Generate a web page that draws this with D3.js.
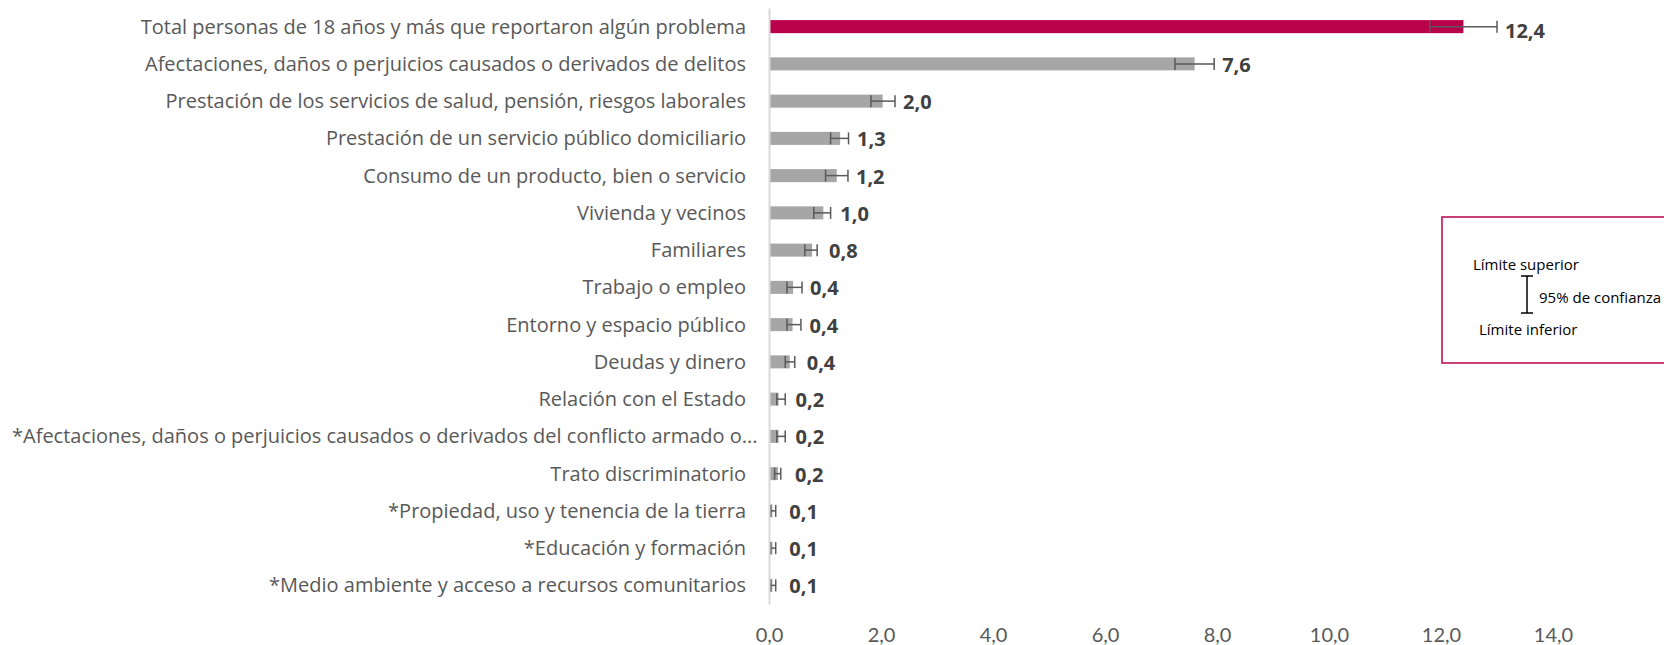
<!DOCTYPE html>
<html>
<head>
<meta charset="utf-8">
<script src="https://cdn.jsdelivr.net/npm/d3@7"></script>
<style>
  html, body { margin: 0; padding: 0; background: #fff; }
  svg { display: block; }
</style>
</head>
<body>
<svg id="chart" width="1664" height="645"></svg>
<script>
const categories = [
  "Total personas de 18 años y más que reportaron algún problema",
  "Afectaciones, daños o perjuicios causados o derivados de delitos",
  "Prestación de los servicios de salud, pensión, riesgos laborales",
  "Prestación de un servicio público domiciliario",
  "Consumo de un producto, bien o servicio",
  "Vivienda y vecinos",
  "Familiares",
  "Trabajo o empleo",
  "Entorno y espacio público",
  "Deudas y dinero",
  "Relación con el Estado",
  "*Afectaciones, daños o perjuicios causados o derivados del conflicto armado o...",
  "Trato discriminatorio",
  "*Propiedad, uso y tenencia de la tierra",
  "*Educación y formación",
  "*Medio ambiente y acceso a recursos comunitarios"
];
const values = [12.4, 7.6, 2.03, 1.27, 1.21, 0.97, 0.77, 0.43, 0.42, 0.37, 0.17, 0.17, 0.16, 0.06, 0.06, 0.06];
const lower  = [11.8, 7.25, 1.82, 1.10, 1.01, 0.80, 0.64, 0.32, 0.32, 0.29, 0.14, 0.14, 0.10, 0.03, 0.03, 0.03];
const upper  = [13.0, 7.95, 2.25, 1.42, 1.41, 1.10, 0.86, 0.59, 0.57, 0.46, 0.29, 0.29, 0.21, 0.12, 0.12, 0.12];
const xTicks = [0, 2, 4, 6, 8, 10, 12, 14];
const legendTexts = ["Límite superior", "95% de confianza", "Límite inferior"];

const data = categories.map((c, i) => ({ cat: c, v: values[i], lo: lower[i], hi: upper[i], i }));

const svg = d3.select("#chart");
const x = d3.scaleLinear().domain([0, 14]).range([769, 1553]);
const y = d3.scaleBand().domain(categories).range([8, 604]).paddingInner(0.65).paddingOuter(0.325);

const fmt = v => v.toFixed(1).replace(".", ",");

// Bars
svg.append("g").selectAll("rect").data(data).join("rect")
  .attr("x", x(0))
  .attr("y", d => y(d.cat))
  .attr("width", d => x(d.v) - x(0))
  .attr("height", y.bandwidth())
  .attr("fill", d => d.i === 0 ? "#B9004B" : "#A6A6A6");

// Error bars
const eb = svg.append("g").attr("stroke", "#595959").attr("stroke-width", 1.5).attr("fill", "none");
data.forEach(d => {
  const cy = y(d.cat) + y.bandwidth() / 2;
  const g = eb.append("g");
  g.append("line").attr("x1", x(d.lo)).attr("x2", x(d.hi)).attr("y1", cy).attr("y2", cy);
  g.append("line").attr("x1", x(d.lo)).attr("x2", x(d.lo)).attr("y1", cy - 6).attr("y2", cy + 6);
  g.append("line").attr("x1", x(d.hi)).attr("x2", x(d.hi)).attr("y1", cy - 6).attr("y2", cy + 6);
});

// Left axis (category labels + vertical line)
const yAxis = svg.append("g")
  .attr("transform", `translate(${x(0)},0)`)
  .call(d3.axisLeft(y).tickSize(0).tickSizeOuter(0).tickPadding(23));
yAxis.select(".domain").attr("stroke", "#D9D9D9").attr("stroke-width", 2);
yAxis.selectAll("text")
  .attr("font-family", "'Open Sans', 'Noto Sans', sans-serif")
  .attr("font-size", 20)
  .attr("dy", "0.35em")
  .attr("fill", "#595959")
  .each(function() {
    const t = d3.select(this);
    const w = this.getComputedTextLength();
    if (w > x(0) - 35) {
      t.attr("text-anchor", "start").attr("x", 12 - x(0));
    }
  });

// Bottom axis tick labels
const xAxis = svg.append("g")
  .attr("transform", "translate(0,604)")
  .call(d3.axisBottom(x).tickValues(xTicks).tickFormat(d => fmt(d)).tickSize(0).tickPadding(24));
xAxis.select(".domain").remove();
xAxis.selectAll("text")
  .attr("font-family", "Lato, 'Open Sans', sans-serif")
  .attr("font-size", 20)
  .attr("fill", "#595959");

// Data labels
svg.append("g").selectAll("text").data(data).join("text")
  .attr("x", d => Math.max(x(d.v) + 17, x(d.hi) + 8))
  .attr("y", d => y(d.cat) + y.bandwidth() / 2 + (d.i === 0 ? 11 : 8))
  .attr("font-family", "'Open Sans', 'Noto Sans', sans-serif")
  .attr("font-weight", "bold")
  .attr("font-size", 20)
  .attr("fill", "#404040")
  .text(d => fmt(d.v));

// Legend box
const lg = svg.append("g");
lg.append("rect").attr("x", 1442).attr("y", 217).attr("width", 240).attr("height", 146)
  .attr("fill", "none").attr("stroke", "#B9004B").attr("stroke-width", 1.5);
lg.append("text").attr("x", 1473).attr("y", 270).text(legendTexts[0]);
lg.append("text").attr("x", 1539).attr("y", 303).text(legendTexts[1]);
lg.append("text").attr("x", 1479).attr("y", 335).text(legendTexts[2]);
lg.selectAll("text").attr("font-family", "'Open Sans', 'Noto Sans', sans-serif").attr("font-size", 15).attr("fill", "#000");
const ib = lg.append("g").attr("stroke", "#000").attr("stroke-width", 1.5);
ib.append("line").attr("x1", 1527).attr("x2", 1527).attr("y1", 276).attr("y2", 313);
ib.append("line").attr("x1", 1521).attr("x2", 1533).attr("y1", 276).attr("y2", 276);
ib.append("line").attr("x1", 1521).attr("x2", 1533).attr("y1", 313).attr("y2", 313);
</script>
</body>
</html>
